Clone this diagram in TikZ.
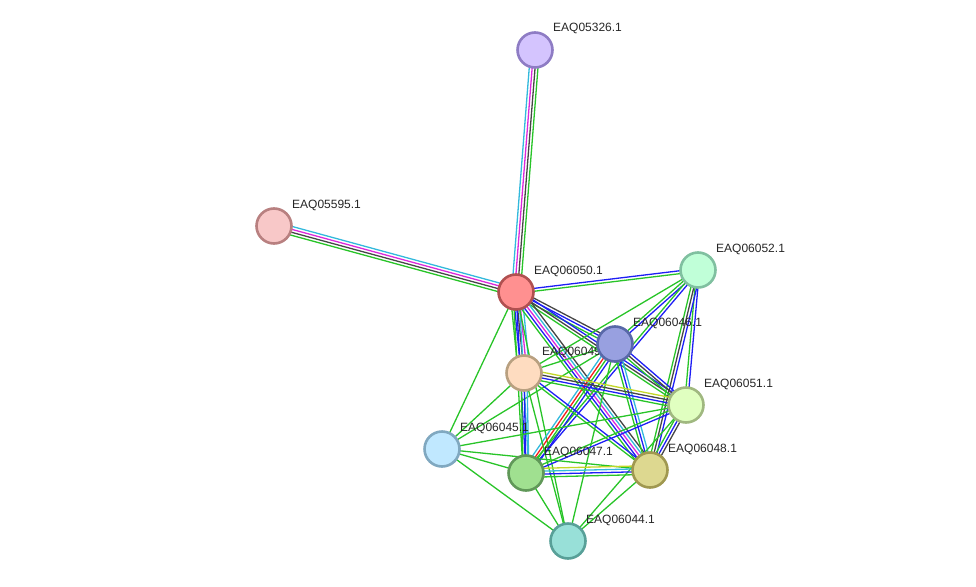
\documentclass[tikz,border=0pt]{standalone}
\usepackage{fontspec}
\setmainfont{Liberation Sans}
\usetikzlibrary{calc}

\definecolor{evgreen}{RGB}{40, 196, 40}
\definecolor{evblue}{RGB}{30, 30, 245}
\definecolor{evblack}{RGB}{70, 70, 70}
\definecolor{evmagenta}{RGB}{220, 40, 220}
\definecolor{evcyan}{RGB}{50, 185, 220}
\definecolor{evred}{RGB}{245, 30, 30}
\definecolor{evyellow}{RGB}{195, 215, 40}

\pgfdeclarelayer{edges}
\pgfdeclarelayer{labels}
\pgfsetlayers{edges,labels,main}

% several evidence lines side by side between two proteins
\newcommand{\evlink}[3]{%
  \xdef\ncol{0}%
  \foreach \c [count=\k] in {#3}{\xdef\ncol{\k}}%
  \foreach \c [count=\k] in {#3}{%
    \pgfmathsetmacro\off{(\k-(\ncol+1)/2)*2.9}%
    \draw[edge, \c] ($(#1)!\off pt!90:(#2)$) -- ($(#2)!\off pt!-90:(#1)$);}%
}

\begin{document}
\begin{tikzpicture}[
    x=1pt, y=-1pt,
    prot/.style={circle, minimum size=35pt, inner sep=0pt, line width=2.6pt},
    lbl/.style={anchor=base west, inner sep=0pt, font=\fontsize{12}{14}\selectfont, text=black!85},
    edge/.style={line width=1.3pt}
]
    \useasboundingbox (0,0) rectangle (976,586);

    \node[prot, fill={rgb,255:red,212;green,196;blue,254}, draw={rgb,255:red,142;green,124;blue,196}] (n05326) at (535,50) {};
    \node[prot, fill={rgb,255:red,248;green,200;blue,200}, draw={rgb,255:red,184;green,128;blue,128}] (n05595) at (274,226) {};
    \node[prot, fill={rgb,255:red,255;green,144;blue,144}, draw={rgb,255:red,176;green,80;blue,80}] (n06050) at (516,292) {};
    \node[prot, fill={rgb,255:red,192;green,255;blue,216}, draw={rgb,255:red,128;green,192;blue,160}] (n06052) at (698,270) {};
    \node[prot, fill={rgb,255:red,152;green,160;blue,224}, draw={rgb,255:red,88;green,104;blue,168}] (n06046) at (615,344) {};
    \node[prot, fill={rgb,255:red,254;green,220;blue,192}, draw={rgb,255:red,184;green,160;blue,128}] (n06049) at (524,373) {};
    \node[prot, fill={rgb,255:red,224;green,255;blue,192}, draw={rgb,255:red,160;green,184;blue,128}] (n06051) at (686,405) {};
    \node[prot, fill={rgb,255:red,192;green,232;blue,255}, draw={rgb,255:red,128;green,168;blue,192}] (n06045) at (442,449) {};
    \node[prot, fill={rgb,255:red,160;green,224;blue,144}, draw={rgb,255:red,96;green,152;blue,88}] (n06047) at (526,473) {};
    \node[prot, fill={rgb,255:red,221;green,216;blue,144}, draw={rgb,255:red,160;green,152;blue,80}] (n06048) at (650,470) {};
    \node[prot, fill={rgb,255:red,152;green,224;blue,216}, draw={rgb,255:red,88;green,160;blue,152}] (n06044) at (568,541) {};

    \begin{pgfonlayer}{labels}
    \node[lbl] (l05326) at ($(n05326.center)+(18,-18)$) {EAQ05326.1};
    \node[lbl] (l05595) at ($(n05595.center)+(18,-18)$) {EAQ05595.1};
    \node[lbl] (l06050) at ($(n06050.center)+(18,-18)$) {EAQ06050.1};
    \node[lbl] (l06052) at ($(n06052.center)+(18,-18)$) {EAQ06052.1};
    \node[lbl] (l06046) at ($(n06046.center)+(18,-18)$) {EAQ06046.1};
    \node[lbl] (l06049) at ($(n06049.center)+(18,-18)$) {EAQ06049.1};
    \node[lbl] (l06051) at ($(n06051.center)+(18,-18)$) {EAQ06051.1};
    \node[lbl] (l06045) at ($(n06045.center)+(18,-18)$) {EAQ06045.1};
    \node[lbl] (l06047) at ($(n06047.center)+(18,-18)$) {EAQ06047.1};
    \node[lbl] (l06048) at ($(n06048.center)+(18,-18)$) {EAQ06048.1};
    \node[lbl] (l06044) at ($(n06044.center)+(18,-18)$) {EAQ06044.1};
    \end{pgfonlayer}

    \begin{pgfonlayer}{edges}
    \evlink{n05326}{n06050}{evcyan,evmagenta,evblack,evgreen}
    \evlink{n05595}{n06050}{evgreen,evblack,evmagenta,evcyan}
    \evlink{n06050}{n06052}{evgreen,evblue}
    \evlink{n06050}{n06049}{evgreen,evblue,evblack,evmagenta,evcyan}
    \evlink{n06050}{n06047}{evgreen,evblue,evcyan}
    \evlink{n06050}{n06046}{evgreen,evblue,evblack}
    \evlink{n06050}{n06051}{evgreen,evblack,evblue}
    \evlink{n06050}{n06048}{evgreen,evblue,evmagenta,evcyan,evblack}
    \evlink{n06050}{n06045}{evgreen}
    \evlink{n06050}{n06044}{evgreen}
    \evlink{n06052}{n06046}{evgreen,evblue}
    \evlink{n06052}{n06049}{evgreen}
    \evlink{n06052}{n06047}{evgreen,evblue}
    \evlink{n06052}{n06051}{evgreen,evblue}
    \evlink{n06052}{n06048}{evgreen,evblack,evblue}
    \evlink{n06046}{n06049}{evgreen}
    \evlink{n06046}{n06051}{evgreen,evblack,evblue}
    \evlink{n06046}{n06048}{evgreen,evblue,evcyan}
    \evlink{n06046}{n06047}{evcyan,evred,evgreen,evblue}
    \evlink{n06046}{n06045}{evgreen}
    \evlink{n06046}{n06044}{evgreen}
    \evlink{n06049}{n06051}{evgreen,evblue,evblack,evyellow}
    \evlink{n06049}{n06048}{evgreen,evblue}
    \evlink{n06049}{n06047}{evgreen,evblue,evcyan}
    \evlink{n06049}{n06045}{evgreen}
    \evlink{n06049}{n06044}{evgreen}
    \evlink{n06051}{n06048}{evgreen,evblue,evblack}
    \evlink{n06051}{n06047}{evgreen,evblue}
    \evlink{n06051}{n06045}{evgreen}
    \evlink{n06051}{n06044}{evgreen}
    \evlink{n06045}{n06047}{evgreen}
    \evlink{n06045}{n06048}{evgreen}
    \evlink{n06045}{n06044}{evgreen}
    \evlink{n06047}{n06048}{evgreen,evblue,evcyan,evyellow}
    \evlink{n06047}{n06044}{evgreen}
    \evlink{n06048}{n06044}{evgreen}
    \end{pgfonlayer}
\end{tikzpicture}
\end{document}
